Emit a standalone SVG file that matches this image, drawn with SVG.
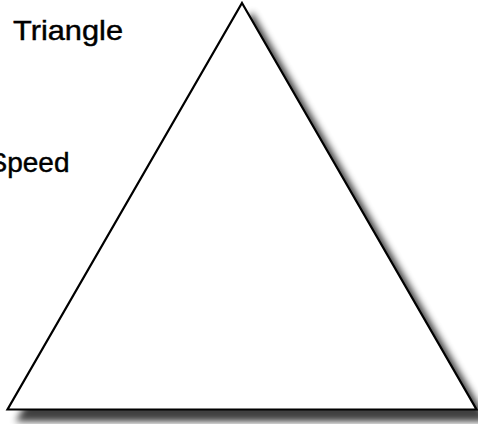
<svg xmlns="http://www.w3.org/2000/svg" width="478" height="424" viewBox="0 0 478 424">
<style>
.lbl{font-family:"Liberation Sans",Arial,Helvetica,sans-serif;font-size:28px;fill:#000;stroke:#000;stroke-width:0.45}
.tri{fill:#fff;stroke:#000;stroke-width:2.2;stroke-linejoin:miter}
</style>
<defs>
<filter id="sh" x="-10%" y="-10%" width="130%" height="130%">
<feGaussianBlur in="SourceAlpha" stdDeviation="3.5"/>
<feOffset dx="10" dy="11" result="b"/>
<feComponentTransfer in="b" result="c"><feFuncA type="linear" slope="0.75"/></feComponentTransfer>
<feMerge><feMergeNode in="c"/><feMergeNode in="SourceGraphic"/></feMerge>
</filter>
</defs>
<rect width="478" height="424" fill="#fff"/>
<g id="triangle">
<polygon class="tri" filter="url(#sh)" points="242,3 476.5,409.5 7.5,409.5"/>
</g>
<g id="label-triangle"><text class="lbl" x="13" y="39.5" textLength="110" lengthAdjust="spacingAndGlyphs">Triangle</text></g>
<g id="label-speed"><text class="lbl" x="69.5" y="172" text-anchor="end">Speed</text></g>
</svg>
